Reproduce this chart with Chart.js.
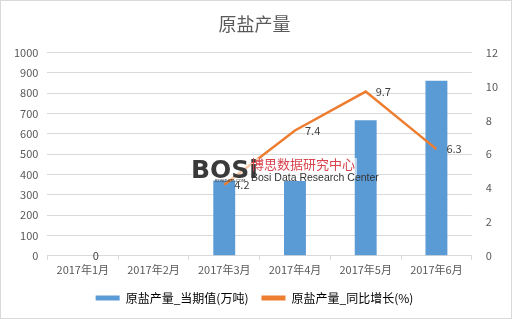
<!DOCTYPE html>
<html>
<head>
<meta charset="utf-8">
<script src="https://cdn.jsdelivr.net/npm/chart.js@4/dist/chart.umd.min.js"></script>
<style>
  body { margin: 0; background: #fff; }
  #wrap { position: relative; width: 510px; height: 317px; border: 1px solid #d9d9d9; }
</style>
</head>
<body>
<div id="wrap"><canvas id="chart" width="510" height="317"></canvas></div>
<script>
// ---------------- DATA ----------------
const months = ["2017年1月", "2017年2月", "2017年3月", "2017年4月", "2017年5月", "2017年6月"];
const outputValues = [0, null, 370, 368, 667, 862];     // 当期值(万吨)
const growthValues = [0, null, 4.2, 7.4, 9.7, 6.3];     // 同比增长(%)

const FONT = "'Noto Sans CJK SC', 'Noto Sans', sans-serif";
const GRAY = "#595959";

// watermark logo (drawn over the marks, under the value labels)
const watermark = {
    id: "watermark",
    afterDatasetsDraw(chart) {
        const ctx = chart.ctx;
        ctx.save();
        ctx.fillStyle = "rgba(255,255,255,0.6)";
        ctx.fillRect(190, 157, 166, 21);
        ctx.textBaseline = "alphabetic";
        ctx.textAlign = "left";
        ctx.fillStyle = "#3a3a3a";
        ctx.font = "bold 25px 'DejaVu Sans', sans-serif";
        ctx.fillText("BOSi", 190, 177);
        ctx.font = "4px 'DejaVu Sans', sans-serif";
        ctx.fillText("BOSIDATA.COM", 214, 181);
        ctx.fillStyle = "#d9434e";
        ctx.font = "13px " + FONT;
        ctx.fillText("博思数据研究中心", 250, 168);
        ctx.fillStyle = "#333";
        ctx.font = "10.5px 'Liberation Sans Narrow', 'Liberation Sans', sans-serif";
        ctx.fillText("Bosi Data Research Center", 250, 180);
        ctx.restore();
    }
};

// line value labels, to the right of each point
const lineLabels = {
    id: "lineLabels",
    afterDatasetsDraw(chart) {
        const ctx = chart.ctx;
        const meta = chart.getDatasetMeta(1);
        ctx.save();
        ctx.font = "11px " + FONT;
        ctx.fillStyle = "#404040";
        ctx.textBaseline = "middle";
        ctx.textAlign = "left";
        meta.data.forEach((pt, i) => {
            const v = growthValues[i];
            if (v === null) return;
            ctx.fillText(String(v), pt.x + 10, pt.y);
        });
        ctx.restore();
    }
};

new Chart("chart", {
    data: {
        labels: months,
        datasets: [
            {
                type: "bar",
                label: "原盐产量_当期值(万吨)",
                data: outputValues,
                backgroundColor: "#5B9BD5",
                yAxisID: "y",
                barPercentage: 0.62,
                categoryPercentage: 0.5,
                order: 2
            },
            {
                type: "line",
                label: "原盐产量_同比增长(%)",
                data: growthValues,
                borderColor: "#ED7D31",
                backgroundColor: "#ED7D31",
                borderWidth: 2.5,
                pointRadius: 0,
                tension: 0,
                spanGaps: false,
                yAxisID: "y1",
                order: 1
            }
        ]
    },
    options: {
        responsive: false,
        animation: false,
        layout: { padding: { left: 4, right: 7, top: 6, bottom: 4 } },
        plugins: {
            title: {
                display: true,
                text: "原盐产量",
                color: GRAY,
                font: { family: FONT, size: 18, weight: "normal" },
                padding: { top: 6, bottom: 18 }
            },
            legend: {
                position: "bottom",
                labels: {
                    color: GRAY,
                    font: { family: FONT, size: 12 },
                    boxWidth: 24,
                    boxHeight: 5,
                    padding: 13,
                    generateLabels(chart) {
                        return chart.data.datasets.map((ds, i) => ({
                            text: ds.label,
                            fillStyle: i === 0 ? "#5B9BD5" : "#ED7D31",
                            strokeStyle: i === 0 ? "#5B9BD5" : "#ED7D31",
                            lineWidth: 0,
                            datasetIndex: i
                        }));
                    }
                }
            },
            tooltip: { enabled: false }
        },
        scales: {
            x: {
                grid: { display: true, drawOnChartArea: false, color: "#d9d9d9", tickLength: 4, offset: true },
                border: { color: "#d9d9d9" },
                ticks: { color: GRAY, font: { family: FONT, size: 11 }, padding: 3 }
            },
            y: {
                position: "left",
                min: 0,
                max: 1000,
                ticks: {
                    stepSize: 100, color: GRAY, font: { family: FONT, size: 11 }, padding: 9,
                    callback: v => String(v)
                },
                grid: { color: "#d9d9d9", drawTicks: false },
                border: { display: false }
            },
            y1: {
                position: "right",
                min: 0,
                max: 12,
                ticks: { stepSize: 2, color: GRAY, font: { family: FONT, size: 11 }, padding: 6 },
                grid: { display: false },
                border: { display: false }
            }
        }
    },
    plugins: [watermark, lineLabels]
});
</script>
</body>
</html>
